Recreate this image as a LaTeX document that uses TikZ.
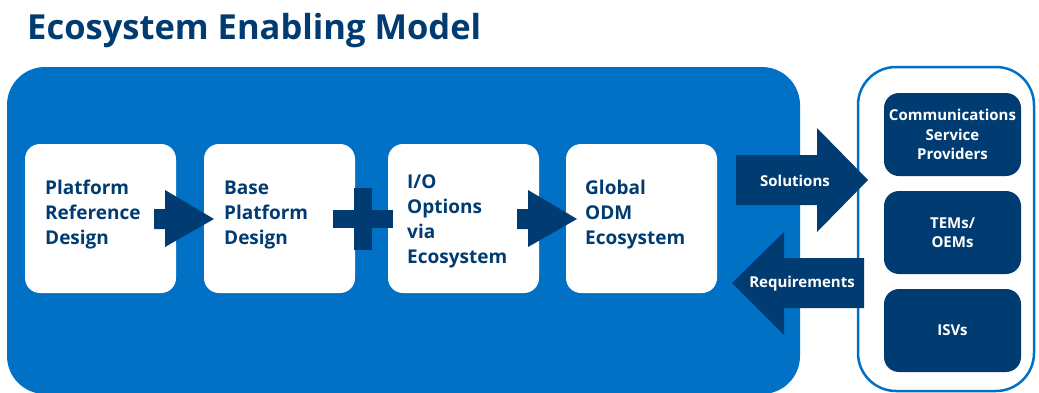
\documentclass[tikz,border=0pt]{standalone}
\usepackage{fontspec}
\setmainfont{Open Sans}
\definecolor{iblue}{RGB}{0,113,197}
\definecolor{inavy}{RGB}{0,60,113}
\begin{document}
\begin{tikzpicture}[x=1pt,y=-1pt,
  wbox/.style={fill=white, rounded corners=15pt, minimum width=151pt, minimum height=149pt, inner sep=0pt},
  nbox/.style={fill=inavy, rounded corners=15pt, minimum width=137pt, minimum height=83pt, inner sep=0pt,
     text=white, font=\fontsize{15}{19.5}\selectfont\bfseries, align=center},
  btext/.style={anchor=west, align=left, text=inavy, inner sep=0pt, font=\fontsize{19}{25}\selectfont\bfseries},
  shapefill/.style={fill=inavy},
  atext/.style={text=white, font=\fontsize{15}{18}\selectfont\bfseries, inner sep=0pt}]
\useasboundingbox (0,0) rectangle (1039,392);
\fill[white] (0,0) rectangle (1039,392);
% title
\node[anchor=west, text=inavy, inner sep=0pt, font=\fontsize{34.5}{40}\selectfont\bfseries] (title) at (27,31) {Ecosystem Enabling Model};
% main blue panel
\fill[iblue, rounded corners=38pt] (7,67) rectangle (800,394);
% right outline panel
\draw[iblue, line width=2.5pt, rounded corners=38pt] (858,67) rectangle (1034,391);
% white boxes
\node[wbox] (b1) at (100.5,218.5) {};
\node[wbox] (b2) at (279.5,218.5) {};
\node[wbox] (b3) at (463.5,218.5) {};
\node[wbox] (b4) at (641.5,218.5) {};
\node[btext] (t1) at (45,215) {Platform\\Reference\\Design};
\node[btext] (t2) at (224,215) {Base\\Platform\\Design};
\node[btext] (t3) at (407,221) {I/O\\Options\\via\\Ecosystem};
\node[btext] (t4) at (585,215) {Global\\ODM\\Ecosystem};
% right navy boxes
\node[nbox] (csp) at (952.5,134.5) {Communications\\Service\\Providers};
\node[nbox] (tem) at (952.5,232.5) {TEMs/\\OEMs};
\node[nbox] (isv) at (952.5,330.5) {ISVs};
% arrows between boxes
\fill[shapefill] (154,209) -- (165,209) -- (165,190) -- (214,219) -- (165,247) -- (165,229) -- (154,229) -- cycle;
\fill[shapefill] (333,210) rectangle (393,228);
\fill[shapefill] (354,188) rectangle (372,250);
\fill[shapefill] (517,209) -- (528,209) -- (528,190) -- (577,219) -- (528,247) -- (528,229) -- (517,229) -- cycle;
% solutions / requirements
\fill[shapefill] (736,155) -- (817,155) -- (817,128) -- (868,180) -- (817,232) -- (817,205) -- (736,205) -- cycle;
\node[atext] (sol) at (795,181) {Solutions};
\fill[shapefill] (864,258) -- (784,258) -- (784,232) -- (732,283) -- (784,335) -- (784,308) -- (864,308) -- cycle;
\node[atext] (req) at (802,284) {Requirements};
\end{tikzpicture}
\end{document}
